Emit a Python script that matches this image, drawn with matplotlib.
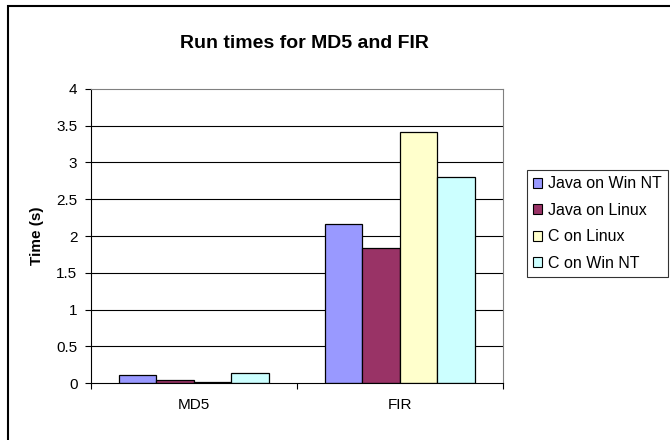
import matplotlib
matplotlib.use("Agg")
import matplotlib.pyplot as plt
from matplotlib.patches import Rectangle, Patch
import numpy as np

plt.rcParams['font.family'] = ['Liberation Sans', 'DejaVu Sans']

# run times in seconds
benchmarks = ['MD5', 'FIR']
series = ['Java on Win NT', 'Java on Linux', 'C on Linux', 'C on Win NT']
java_nt = [0.11, 2.17]
java_linux = [0.04, 1.84]
c_linux = [0.02, 3.42]
c_nt = [0.13, 2.80]
colors = ['#9999FF', '#993366', '#FFFFCC', '#CCFFFF']

fig = plt.figure(figsize=(6.7, 4.4), dpi=100)
ax = fig.add_axes([91 / 670, 1 - 383 / 440, 411.6 / 670, 294 / 440])

ind = np.arange(len(benchmarks))
width = 0.182
for i, (vals, col) in enumerate(zip([java_nt, java_linux, c_linux, c_nt], colors)):
    ax.bar(ind + (i - 1.5) * width, vals, width, color=col, edgecolor='black',
           linewidth=0.9, zorder=3)

ax.set_xlim(-0.5, 1.5)
ax.set_ylim(0, 4)
yt = np.arange(0, 4.01, 0.5)
ax.set_yticks(yt)
ax.set_yticklabels([f"{v:g}" for v in yt], fontsize=11)
ax.tick_params(axis='y', direction='out', length=4.3, width=0.8, pad=5.5)

# category labels in the middle, tick marks on the boundaries
ax.set_xticks(ind)
ax.set_xticklabels(benchmarks, fontsize=11)
ax.tick_params(axis='x', which='major', length=0, pad=11)
ax.set_xticks([-0.5, 0.5, 1.5], minor=True)
ax.tick_params(axis='x', which='minor', direction='out', length=4.3, width=0.8)

for y in yt[1:-1]:
    ax.axhline(y, color='black', linewidth=0.8, zorder=1)

ax.spines['left'].set_color('black')
ax.spines['bottom'].set_color('black')
ax.spines['top'].set_color('#808080')
ax.spines['right'].set_color('#808080')
for s in ax.spines.values():
    s.set_linewidth(0.8)
    s.set_zorder(4)

fig.text(304 / 670, 1 - 43 / 440, 'Run times for MD5 and FIR', fontsize=14,
         fontweight='bold', ha='center', va='center')
fig.text(36.5 / 670, 1 - 236 / 440, 'Time (s)', fontsize=11, fontweight='bold',
         rotation=90, ha='center', va='center')

handles = [Patch(facecolor=c, edgecolor='black', linewidth=0.8) for c in colors]
leg = fig.legend(handles, series, loc='upper left',
                 bbox_to_anchor=(527 / 670, 1 - 170 / 440), fontsize=11.5,
                 frameon=True, fancybox=False, edgecolor='black',
                 handlelength=0.55, handleheight=0.55, handletextpad=0.35,
                 labelspacing=0.72, borderpad=0.4, borderaxespad=0)
leg.get_frame().set_linewidth(0.8)

# chart area border, cut off at the right and bottom edges
fig.patches.append(Rectangle((8 / 670, -0.1), 1.2, 1 - 6 / 440 + 0.1,
                             transform=fig.transFigure, fill=False,
                             edgecolor='black', linewidth=1.5))

fig.savefig('out.png', dpi=100)
